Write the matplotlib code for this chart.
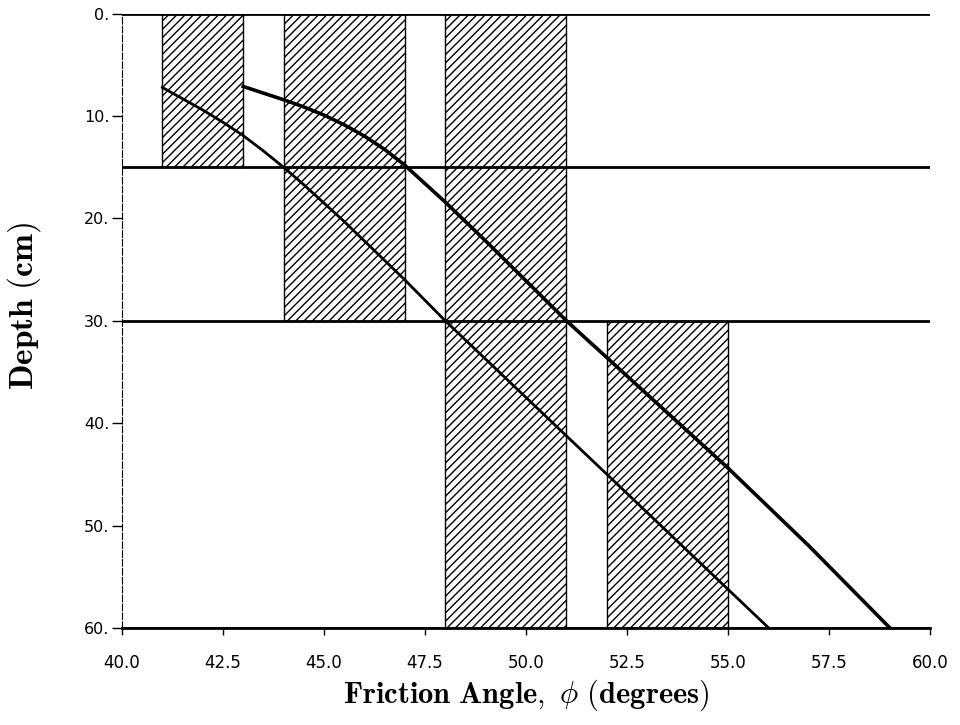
import matplotlib
matplotlib.use("Agg")
import matplotlib.pyplot as plt
import numpy as np

# friction angle ranges per depth layer (hatched boxes)
box_left = [41.0, 44.0, 48.0, 52.0]
box_right = [43.0, 47.0, 51.0, 55.0]
box_top = [0.0, 0.0, 0.0, 30.0]
box_bottom = [15.0, 30.0, 60.0, 60.0]

# layer boundaries (depth, cm)
layer_depths = [0, 15, 30, 60]

# lower curve
lower_phi = [41.0, 41.5, 42.0, 42.5, 43.0, 43.5, 44.0, 44.5, 45.0, 45.5, 46.0,
             46.5, 47.0, 47.5, 48.0, 50.0, 52.0, 54.0, 56.0]
lower_depth = [7.2, 8.3, 9.4, 10.6, 11.9, 13.4, 15.0, 16.7, 18.5, 20.3, 22.2,
               24.1, 26.0, 28.0, 30.0, 37.5, 45.0, 52.5, 60.0]

# upper curve
upper_phi = [43.0, 43.5, 44.0, 44.5, 45.0, 45.5, 46.0, 46.5, 47.0, 47.5, 48.0,
             49.0, 50.0, 51.0, 53.0, 55.0, 57.0, 59.0]
upper_depth = [7.1, 7.75, 8.4, 9.1, 9.9, 10.85, 11.95, 13.25, 14.8, 16.6, 18.4,
               22.2, 26.1, 30.0, 37.2, 44.4, 52.0, 60.0]

x_ticks = [40.0, 42.5, 45.0, 47.5, 50.0, 52.5, 55.0, 57.5, 60.0]
y_ticks = [0, 10, 20, 30, 40, 50, 60]

plt.rcParams["hatch.linewidth"] = 1.0
plt.rcParams["mathtext.fontset"] = "cm"

fig = plt.figure(figsize=(9.6, 7.25), dpi=100)
ax = fig.add_axes([0.127, 0.134, 0.842, 0.847])

widths = np.array(box_right) - np.array(box_left)
heights = np.array(box_bottom) - np.array(box_top)
ax.bar(box_left, heights, width=widths, bottom=box_top, align="edge",
       fill=False, hatch="////", edgecolor="black", linewidth=1.0, zorder=1)

for d in layer_depths:
    ax.axhline(d, color="black", linewidth=2.0, zorder=2)

ax.plot(lower_phi, lower_depth, color="black", linewidth=2.0, zorder=3)
ax.plot(upper_phi, upper_depth, color="black", linewidth=2.6, zorder=3)

ax.set_xlim(40, 60)
ax.set_ylim(60, 0)
ax.set_xticks(x_ticks)
ax.set_xticklabels([f"{v:.1f}" for v in x_ticks])
ax.set_yticks(y_ticks)
ax.set_yticklabels([f"{v}." for v in y_ticks])
ax.tick_params(axis="x", labelsize=12, length=5, width=1, direction="out", pad=14)
ax.tick_params(axis="y", labelsize=11.5, length=7, width=1, direction="out", pad=2)

for side in ["top", "right"]:
    ax.spines[side].set_visible(False)
ax.spines["left"].set_linestyle((0, (6, 2)))
ax.spines["left"].set_linewidth(0.8)
ax.spines["bottom"].set_linewidth(2.0)

ax.set_xlabel(r"$\mathbf{Friction\ Angle,}\ \phi\ \mathbf{(degrees)}$", fontsize=22, labelpad=4)
ax.set_ylabel(r"$\mathbf{Depth\ (cm)}$", fontsize=24)
ax.yaxis.set_label_coords(-0.098, 0.525)

fig.savefig("out.png", dpi=100, facecolor="white")
